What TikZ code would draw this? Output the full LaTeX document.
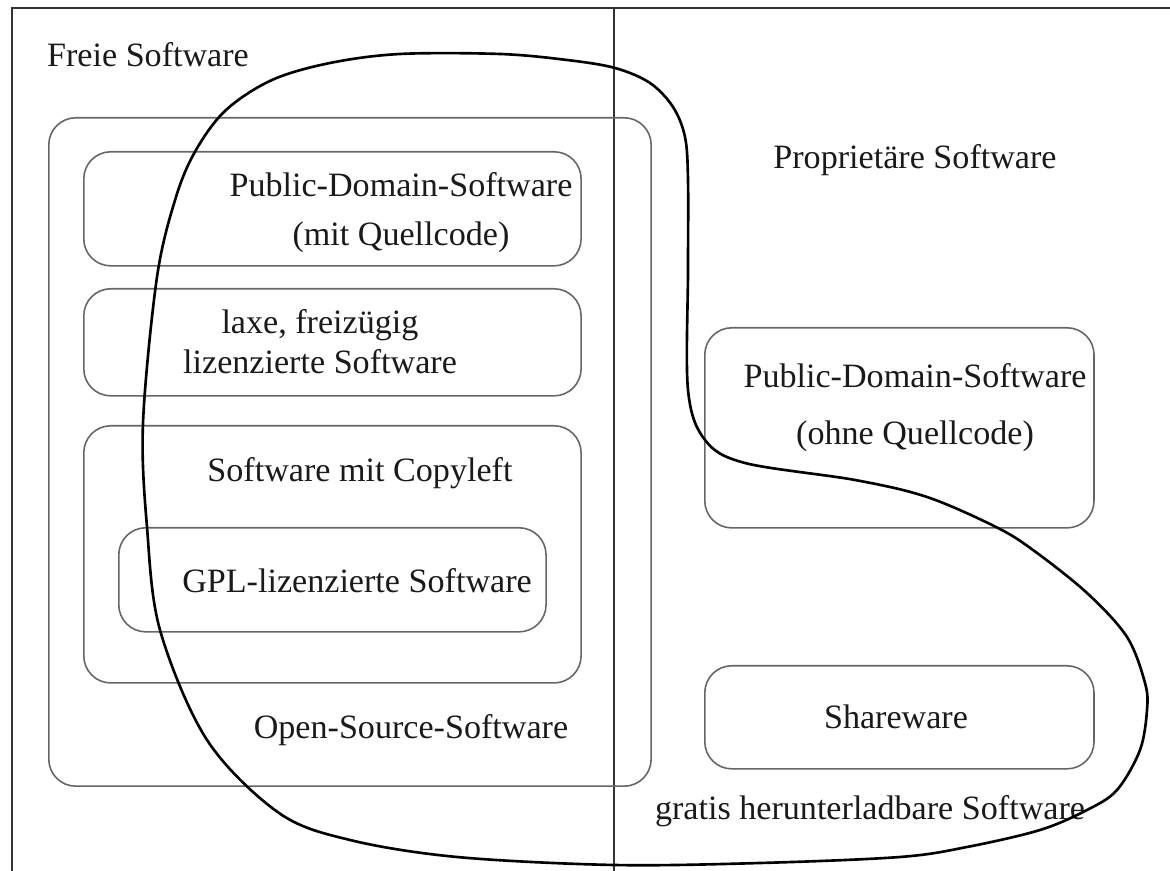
\documentclass[tikz,border=0pt]{standalone}
\usepackage{fontspec}
\setmainfont{Liberation Serif}
\definecolor{boxgray}{HTML}{666666}
\definecolor{framegray}{HTML}{333333}
\definecolor{txt}{HTML}{1A1A1A}
\begin{document}
\begin{tikzpicture}[x=0.01cm,y=-0.01cm,
  box/.style={draw=boxgray, line width=0.45pt, rounded corners=0.27cm, anchor=north west, inner sep=0pt},
  lbl/.style={text=txt, font=\fontsize{9.7}{11.6}\selectfont, inner sep=0pt, align=center},
  frameline/.style={draw=framegray, line width=0.6pt},
  curveline/.style={draw=black, line width=0.75pt}]
\useasboundingbox (0,0) rectangle (1170,871);

% frame and divider
\coordinate (fbl) at (12,875);
\coordinate (ftl) at (12,8);
\coordinate (ftr) at (1172,8);
\coordinate (dtop) at (614,8);
\coordinate (dbot) at (614,875);
\draw[frameline] (fbl) -- (ftl) -- (ftr);
\draw[frameline] (dtop) -- (dbot);

% boxes
\node[box, minimum width=6.02cm, minimum height=6.68cm] (os) at (48,117) {};
\node[box, minimum width=4.97cm, minimum height=1.14cm] (pdmit) at (83,151) {};
\node[box, minimum width=4.97cm, minimum height=1.07cm] (laxe) at (83,288) {};
\node[box, minimum width=4.97cm, minimum height=2.57cm] (copyleft) at (83,425) {};
\node[box, minimum width=4.27cm, minimum height=1.04cm] (gpl) at (118,527) {};
\node[box, minimum width=3.89cm, minimum height=2.00cm] (pdohne) at (704,327) {};
\node[box, minimum width=3.89cm, minimum height=1.03cm] (share) at (704,665) {};

% labels
\node[lbl] (tfreie) at (148,55) {Freie Software};
\node[lbl] (tprop) at (915,160) {Proprietäre Software};
\node[lbl] (tpdmit) at (401,213) {Public-Domain-Software\\[2.3pt](mit Quellcode)};
\node[lbl] (tlaxe) at (320,342) {laxe, freizügig\\[-0.2pt]lizenzierte Software};
\node[lbl] (tcopy) at (360,473) {Software mit Copyleft};
\node[lbl] (tgpl) at (357,581) {GPL-lizenzierte Software};
\node[lbl] (tos) at (411,730) {Open-Source-Software};
\node[lbl] (tpdohne) at (915,408) {Public-Domain-Software\\[4.6pt](ohne Quellcode)};
\node[lbl] (tshare) at (896,717) {Shareware};
\node[lbl] (tgratis) at (870,811) {gratis herunterladbare Software};

% free-download region
\draw[curveline] plot[smooth cycle, tension=0.55] coordinates {
 (143,423) (147,527) (160,630) (207,740) (279,813) (350,840) (457,857)
 (614,865) (760,863) (900,857) (967,847) (1040,830) (1087,810) (1117,790)
 (1140,750) (1147,710) (1145,683) (1127,637) (1087,593) (1033,550)
 (996,527) (927,497) (855,480) (745,463) (705,440) (688,390)
 (688,270) (688,180) (685,137) (673,107) (650,83) (615,68) (567,60)
 (500,54) (400,54) (330,63) (272,80) (226,110) (196,150) (176,197) (157,277)};
\end{tikzpicture}
\end{document}
